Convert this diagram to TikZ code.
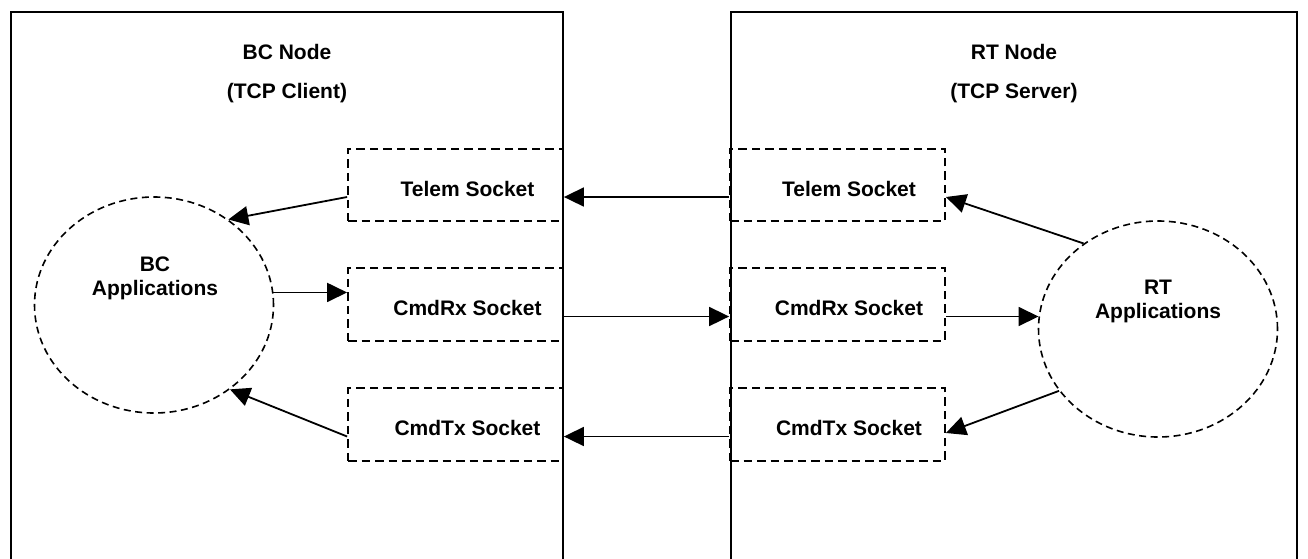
\documentclass[tikz,border=0pt]{standalone}
\usepackage{fontspec}
\setmainfont{Liberation Sans}
\usetikzlibrary{shapes.geometric,arrows.meta}
\begin{document}
\begin{tikzpicture}[x=1pt,y=-1pt,
  txt/.style={font=\fontsize{21}{24}\selectfont\bfseries, inner sep=0pt},
  sock/.style={draw, dash pattern=on 8.5pt off 5pt, line width=1.8pt, minimum width=215pt, minimum height=72.5pt, inner sep=0pt},
  app/.style={ellipse, draw, dash pattern=on 7pt off 4.5pt, line width=1.6pt, minimum width=239pt, minimum height=216pt, inner sep=0pt},
  arr/.style={line width=1.8pt, -{Triangle[length=20pt,width=19pt]}},
  frame/.style={line width=2pt}]
\useasboundingbox (0,0) rectangle (1308,558);
% outer frames
\draw[frame] (10.7,560) -- (10.7,11.7) -- (563,11.7) -- (563,560);
\draw[frame] (730.5,560) -- (730.5,11.7) -- (1297,11.7) -- (1297,560);
\node[txt] (bcn) at (287,52) {BC Node};
\node[txt] (bcc) at (287,93) {(TCP Client)};
\node[txt] (rtn) at (1014,52) {RT Node};
\node[txt] (rts) at (1014,93) {(TCP Server)};
% sockets
\node[sock] (lT) at (455.5,185) {};
\node[sock] (lR) at (455.5,304.5) {};
\node[sock] (lX) at (455.5,424.5) {};
\node[sock] (rT) at (837.5,185) {};
\node[sock] (rR) at (837.5,304.5) {};
\node[sock] (rX) at (837.5,424.5) {};
\node[txt] (lTt) at (467.5,189) {Telem Socket};
\node[txt] (lRt) at (467.5,308) {CmdRx Socket};
\node[txt] (lXt) at (467.5,428) {CmdTx Socket};
\node[txt] (rTt) at (849,189) {Telem Socket};
\node[txt] (rRt) at (849,308) {CmdRx Socket};
\node[txt] (rXt) at (849,428) {CmdTx Socket};
% applications
\node[app] (bc) at (154,305) {};
\node[app] (rt) at (1158,329) {};
\node[txt, align=center] (bct) at (155,278) {BC\\Applications};
\node[txt, align=center] (rtt) at (1158,301) {RT\\Applications};
% connectors
\draw[arr] ([yshift=-12pt]rT.west) -- ([yshift=-12pt]lT.east);
\draw[arr] ([yshift=-12pt]lT.west) -- (bc.49);
\draw[arr] (bc.6) -- (bc.6 -| lR.west);
\draw[arr] ([yshift=-12pt]lR.east) -- ([yshift=-12pt]rR.west);
\draw[arr] ([yshift=-12pt]rR.east) -- ([yshift=-12pt]rR.east -| rt.174);
\draw[arr] (rt.131) -- ([yshift=-12pt]rT.east);
\draw[arr] (rt.212) -- ([yshift=-8.5pt]rX.east);
\draw[arr] ([yshift=-12pt]rX.west) -- ([yshift=-12pt]lX.east);
\draw[arr] ([yshift=-12pt]lX.west) -- (bc.-48);
\end{tikzpicture}
\end{document}
